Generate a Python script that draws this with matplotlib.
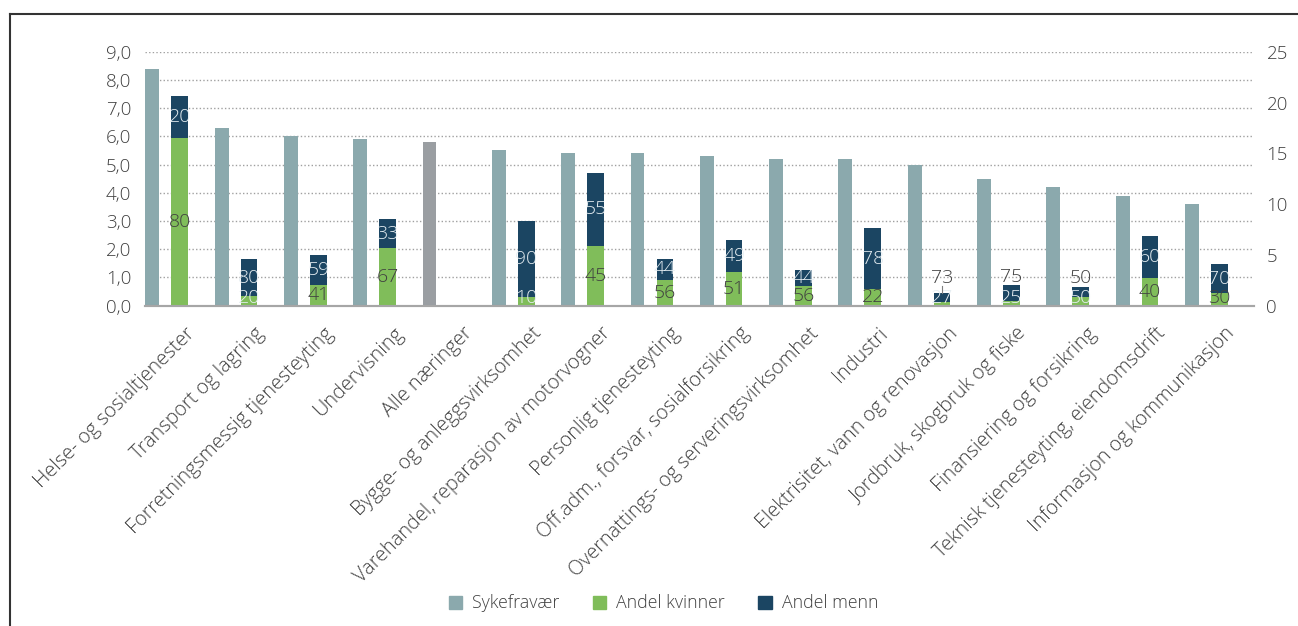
import numpy as np
import matplotlib.pyplot as plt
import matplotlib.transforms as mtransforms
from matplotlib.lines import Line2D
from matplotlib.patches import Patch

plt.rcParams['font.family'] = ['Open Sans', 'DejaVu Sans']
plt.rcParams['font.weight'] = 'light'

# data: sickness absence (left axis) and employees with gender split (right axis)
naeringer = ["Helse- og sosialtjenester", "Transport og lagring",
             "Forretningsmessig tjenesteyting", "Undervisning", "Alle næringer",
             "Bygge- og anleggsvirksomhet", "Varehandel, reparasjon av motorvogner",
             "Personlig tjenesteyting", "Off.adm., forsvar, sosialforsikring",
             "Overnattings- og serveringsvirksomhet", "Industri",
             "Elektrisitet, vann og renovasjon", "Jordbruk, skogbruk og fiske",
             "Finansiering og forsikring", "Teknisk tjenesteyting, eiendomsdrift",
             "Informasjon og kommunikasjon"]
sykefravaer = [8.4, 6.3, 6.0, 5.9, 5.8, 5.5, 5.4, 5.4, 5.3, 5.2, 5.2, 5.0, 4.5, 4.2, 3.9, 3.6]
ansatte = [20.6, 4.6, 5.0, 8.5, np.nan, 8.3, 13.1, 4.6, 6.5, 3.5, 7.6, 1.2, 2.0, 1.8, 6.9, 4.1]
andel_kvinner = [80, 20, 41, 67, np.nan, 10, 45, 56, 51, 56, 22, 27, 25, 50, 40, 30]
andel_menn = [20, 80, 59, 33, np.nan, 90, 55, 44, 49, 44, 78, 73, 75, 50, 60, 70]

c_syke = "#8ba9ad"
c_alle = "#9a9ea2"
c_kvinner = "#80bd5a"
c_menn = "#1b4562"
c_text = "#404040"
c_light = "#e6eef2"

fig = plt.figure(figsize=(12.98, 6.26), dpi=100)
ax = fig.add_axes([0.1117, 0.5117, 0.8544, 0.4057])
ax2 = ax.twinx()

n = len(naeringer)
x = np.arange(n)

bar_colors = [c_alle if nav == "Alle næringer" else c_syke for nav in naeringer]
ax.bar(x + 0.105, sykefravaer, width=0.2, color=bar_colors, zorder=2)

tot = np.array(ansatte)
kv = tot * np.array(andel_kvinner) / 100
me = tot * np.array(andel_menn) / 100
ok = ~np.isnan(tot)
ax2.bar(x[ok] + 0.5, kv[ok], width=0.24, color=c_kvinner, zorder=2)
ax2.bar(x[ok] + 0.5, me[ok], width=0.24, bottom=kv[ok], color=c_menn, zorder=2)

# value labels
above = [11, 12, 13]
for i in range(n):
    if not ok[i]:
        continue
    small = kv[i] < 1.0
    ky = max(kv[i] / 2, 0.75)
    ax2.text(i + 0.5, ky, "%d" % andel_kvinner[i], ha="center", va="center",
             fontsize=14, color=c_light if small else c_text, zorder=5)
    if i in above:
        top = tot[i]
        ly = max(top + 0.85, 2.7)
        ax2.text(i + 0.5, ly, "%d" % andel_menn[i], ha="center", va="center",
                 fontsize=14, color=c_text, zorder=5)
        if ly - top > 1.0:
            ax2.plot([i + 0.5, i + 0.5], [top, ly - 0.75], color="#7f7f7f", lw=0.8, zorder=5)
    else:
        ax2.text(i + 0.5, kv[i] + me[i] / 2, "%d" % andel_menn[i], ha="center", va="center",
                 fontsize=14, color=c_light, zorder=5)

ax.set_xlim(0, n)
ax.set_ylim(0, 9)
ax2.set_ylim(0, 25)
ax.set_yticks(np.arange(0, 10, 1))
ax.set_yticklabels([("%.1f" % v).replace(".", ",") for v in np.arange(0, 10, 1)])
ax2.set_yticks(np.arange(0, 30, 5))

ax.yaxis.grid(True, color="#a0a0a0", linestyle=(0, (1, 1.6)), linewidth=1)
ax.set_axisbelow(True)

for a in (ax, ax2):
    for side in ("left", "right", "top"):
        a.spines[side].set_visible(False)
    a.spines["bottom"].set_color("#a6a6a6")
    a.spines["bottom"].set_linewidth(1.5)
ax.tick_params(axis="y", length=0, pad=10, labelsize=13.5, labelcolor=c_text)
ax2.tick_params(axis="y", length=0, pad=9, labelsize=13.5, labelcolor=c_text)

ax.set_xticks(x + 0.5)
ax.set_xticklabels(naeringer, rotation=45, ha="right", va="center",
                   rotation_mode="anchor", fontsize=14.3, color=c_text)
ax.tick_params(axis="x", length=0, pad=0)
shift = mtransforms.ScaledTranslation(9 / 72, -18 / 72, fig.dpi_scale_trans)
for lbl in ax.get_xticklabels():
    lbl.set_transform(lbl.get_transform() + shift)

handles = [Patch(color=c_syke), Patch(color=c_kvinner), Patch(color=c_menn)]
fig.legend(handles, ["Sykefravær", "Andel kvinner", "Andel menn"], loc="center",
           bbox_to_anchor=(0.511, 0.036), ncol=3, frameon=False, fontsize=12.8,
           handlelength=0.75, handleheight=0.75, handletextpad=0.55, columnspacing=1.9,
           labelcolor=c_text)

# frame around the figure
fig.add_artist(Line2D([0.0077, 1.0], [0.9776, 0.9776], color="#333333", lw=1.5,
                      transform=fig.transFigure))
fig.add_artist(Line2D([0.0077, 0.0077], [0.0, 0.9776], color="#333333", lw=1.5,
                      transform=fig.transFigure))

fig.savefig("out.png", dpi=100)
